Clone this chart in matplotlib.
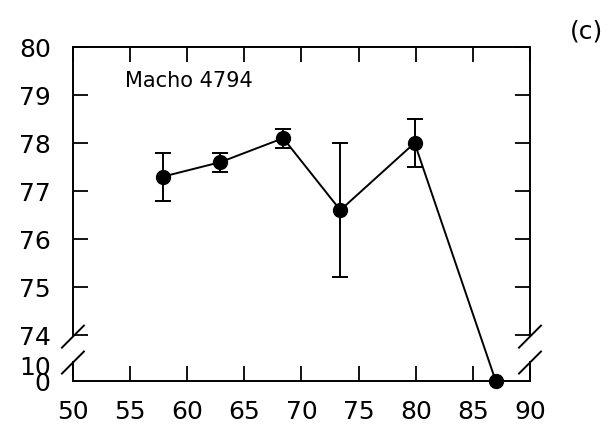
import numpy as np
import matplotlib
matplotlib.use("Agg")
import matplotlib.pyplot as plt

# Data
x_vals = [57.9, 62.9, 68.4, 73.4, 79.9, 87.0]
y_vals = [77.3, 77.6, 78.1, 76.6, 78.0, 0.0]
err_lo = [0.5, 0.2, 0.2, 1.4, 0.5, 0.0]
err_hi = [0.5, 0.2, 0.2, 1.4, 0.5, 0.0]
x_ticks = [50, 55, 60, 65, 70, 75, 80, 85, 90]
y_ticks_top = [74, 75, 76, 77, 78, 79, 80]
y_ticks_low = [0, 10]
label_text = "Macho 4794"
panel_text = "(c)"

LOW_H = 0.35   # transformed height of 0..10
GAP = 0.96     # transformed position of 74

def fwd(y):
    y = np.asarray(y, dtype=float)
    return np.where(y <= 10, y * LOW_H / 10.0,
                    np.where(y >= 74, GAP + (y - 74),
                             LOW_H + (y - 10) * (GAP - LOW_H) / 64.0))

def inv(t):
    t = np.asarray(t, dtype=float)
    return np.where(t <= LOW_H, t * 10.0 / LOW_H,
                    np.where(t >= GAP, 74 + (t - GAP),
                             10 + (t - LOW_H) * 64.0 / (GAP - LOW_H)))

plt.rcParams['font.family'] = ['DejaVu Sans']
fig = plt.figure(figsize=(6.13, 4.27), dpi=100)
ax = fig.add_axes([0.119, 0.1054, 0.7456, 0.7822])
ax.set_yscale('function', functions=(fwd, inv))
ax.set_xlim(50, 90)
ax.set_ylim(0, 80)

lw = 1.4
ax.plot(x_vals, y_vals, color='black', lw=lw, zorder=2)
ax.errorbar(x_vals[:-1], y_vals[:-1], yerr=[err_lo[:-1], err_hi[:-1]], fmt='none',
            ecolor='black', elinewidth=lw, capsize=6, capthick=lw, zorder=2)
ax.plot(x_vals, y_vals, 'o', color='black', ms=10, zorder=3, clip_on=False)

# ticks
ax.set_xticks(x_ticks)
ax.set_xticklabels([str(v) for v in x_ticks])
ax.set_yticks(y_ticks_top)
ax.set_yticklabels([str(v) for v in y_ticks_top])
ax.set_yticks(y_ticks_low, minor=True)
ax.set_yticklabels([str(v) for v in y_ticks_low], minor=True)
ax.tick_params(axis='both', which='major', direction='in', length=11, width=1.3,
               labelsize=18, top=True, right=True)
ax.tick_params(axis='y', which='major', pad=16)
ax.tick_params(axis='y', which='minor', length=0, pad=16, labelsize=18)
ax.tick_params(axis='x', which='major', pad=13)
ax.tick_params(axis='x', which='minor', bottom=False, top=False)

# spines with break
for s in ['left', 'right']:
    ax.spines[s].set_visible(False)
ax.spines['top'].set_linewidth(lw)
ax.spines['bottom'].set_linewidth(lw)
yt = ax.get_yaxis_transform()
for xa in [0, 1]:
    ax.plot([xa, xa], [74, 80], color='black', lw=lw, transform=yt, clip_on=False)
    ax.plot([xa, xa], [0, 14], color='black', lw=lw, transform=yt, clip_on=False)

# break marks (in axes coordinates)
def slash(xa, ya):
    dx, dy = 0.024, 0.033
    ax.plot([xa - dx, xa + dx], [ya - dy, ya + dy], color='black', lw=lw,
            transform=ax.transAxes, clip_on=False)

t_top = float(fwd(80))
for xa in [0, 1]:
    slash(xa, float(fwd(74)) / t_top - 0.005)
    slash(xa, float(fwd(10)) / t_top + 0.005)

ax.text(0.113, 0.9, label_text, transform=ax.transAxes, fontsize=15,
        ha='left', va='center', color='black')
fig.text(0.956, 0.927, panel_text, fontsize=18, ha='center', va='center', color='black')

fig.savefig('out.png', dpi=100)
